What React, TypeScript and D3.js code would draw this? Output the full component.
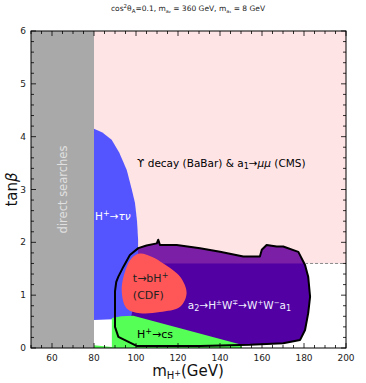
import React from "react";
import { scaleLinear, line, curveLinear, curveCatmullRomClosed, range } from "d3";

// mass axis ticks and tanβ ticks
const xTickLabels = [60, 80, 100, 120, 140, 160, 180, 200];
const yTickLabels = [0, 1, 2, 3, 4, 5, 6];

const directSearchLimit = 80; // GeV
const upsilonTanBeta = 1.6;

// excluded region boundary for a2 -> H W -> W W a1 (black contour)
const a2Contour: [number, number][] = [
  [97.1, 1.76], [101.1, 1.89], [105, 1.94], [109.9, 1.98], [110.6, 2.05], [111.4, 1.95],
  [119.4, 1.95], [130.5, 1.89], [140, 1.82], [151.1, 1.73], [159, 1.73], [159.9, 1.86],
  [162.2, 1.95], [167, 1.92], [170.1, 1.92], [177.3, 1.82], [180.5, 1.57], [182, 1.35],
  [182.9, 0.97], [182, 0.66], [180.5, 0.34], [178.1, 0.15], [170.1, 0.09], [154.3, 0.06],
  [130.5, 0.04], [100.3, 0.04], [91.6, 0.21], [90, 0.4], [90, 1.07], [90.6, 1.25],
  [91.6, 1.35], [94, 1.54],
];

// H+ -> tau nu
const tauNuRegion: [number, number][] = [
  [80, 4.15], [84, 4.08], [88.4, 3.94], [92, 3.7], [95.6, 3.37], [98, 3.0], [99.5, 2.75],
  [100.5, 2.4], [101, 2.05], [101, 1.7], [100.2, 1.2], [98.8, 0.8], [97.5, 0.56], [80, 0.53],
];

// t -> b H+ (CDF)
const cdfRegion: [number, number][] = [
  [101.9, 1.79], [108, 1.72], [113, 1.6], [121, 1.35], [124.1, 1.04], [121, 0.78],
  [111.4, 0.68], [101.9, 0.66], [95.6, 0.75], [93.2, 1.1], [95.6, 1.54], [98.7, 1.73],
];

// H+ -> c s
const csRegion: [number, number][] = [
  [80, 0], [80, 0.05], [88.5, 0.02], [88.5, 0.57], [93, 0.6], [98.7, 0.61],
  [124.1, 0.34], [150.3, 0.06], [150.5, 0],
];

export default function App() {
  const width = 366;
  const height = 383;
  const margin = { left: 31, right: 20, top: 31, bottom: 35 };

  const x = scaleLinear().domain([50, 200]).range([margin.left, width - margin.right]);
  const y = scaleLinear().domain([0, 6]).range([height - margin.bottom, margin.top]);

  const toPath = line<[number, number]>().x(d => x(d[0])).y(d => y(d[1]));
  const linear = toPath.curve(curveLinear);
  const contourPath = linear(a2Contour) + "Z";
  const tauPath = linear(tauNuRegion) + "Z";
  const csPath = linear(csRegion) + "Z";
  const cdfPath = line<[number, number]>()
    .x(d => x(d[0])).y(d => y(d[1]))
    .curve(curveCatmullRomClosed.alpha(0.5))(cdfRegion);

  const font = "'DejaVu Sans', sans-serif";
  const minorX = range(50, 201, 5);
  const minorY = range(0, 6.01, 0.2);
  const x0 = x(50), x1 = x(200), yTop = y(6), yBot = y(0);

  return (
    <svg width={width} height={height} style={{ position: "absolute", left: 0, top: 0 }} fontFamily={font}>
      <defs>
        <clipPath id="above">
          <rect x={x0} y={yTop} width={x1 - x0} height={y(upsilonTanBeta) - yTop} />
        </clipPath>
      </defs>

      <text x={188} y={11} fontSize={7.5} textAnchor="middle" fill="#222">
        cos<tspan dy={-3} fontSize={5.5}>2</tspan><tspan dy={3}>θ</tspan>
        <tspan dy={2} fontSize={5.5}>A</tspan><tspan dy={-2}>=0.1, m</tspan>
        <tspan dy={2} fontSize={5}>a₂</tspan><tspan dy={-2}> = 360 GeV,  m</tspan>
        <tspan dy={2} fontSize={5}>a₁</tspan><tspan dy={-2}> = 8 GeV</tspan>
      </text>

      {/* direct searches and Upsilon regions */}
      <rect x={x0} y={yTop} width={x(directSearchLimit) - x0} height={yBot - yTop} fill="#a9a9a9" />
      <rect x={x(directSearchLimit)} y={yTop} width={x1 - x(directSearchLimit)}
        height={y(upsilonTanBeta) - yTop} fill="#ffe4e6" />

      {/* a2 region */}
      <path d={contourPath} fill="#5200a3" />
      <g clipPath="url(#above)">
        <path d={contourPath} fill="#7a1fa6" />
      </g>

      <path d={tauPath} fill="#5555ff" />
      <path d={cdfPath ?? ""} fill="#ff5757" />
      <path d={csPath} fill="#55ff55" />

      <path d={contourPath} fill="none" stroke="#000" strokeWidth={2} strokeLinejoin="round" />
      <line x1={x(180.5)} x2={x1} y1={y(upsilonTanBeta)} y2={y(upsilonTanBeta)}
        stroke="#888" strokeDasharray="3,2" strokeWidth={1} />

      {/* frame and ticks */}
      <rect x={x0} y={yTop} width={x1 - x0} height={yBot - yTop} fill="none" stroke="#000" strokeWidth={1} />
      {minorX.map(v => {
        const len = xTickLabels.includes(v) ? 5 : 3;
        return (
          <g key={"xt" + v}>
            <line x1={x(v)} x2={x(v)} y1={yBot} y2={yBot - len} stroke="#000" strokeWidth={0.8} />
            <line x1={x(v)} x2={x(v)} y1={yTop} y2={yTop + len} stroke="#000" strokeWidth={0.8} />
          </g>
        );
      })}
      {minorY.map((v, i) => {
        const len = i % 5 === 0 ? 5 : 3;
        return (
          <g key={"yt" + i}>
            <line x1={x0} x2={x0 + len} y1={y(v)} y2={y(v)} stroke="#000" strokeWidth={0.8} />
            <line x1={x1} x2={x1 - len} y1={y(v)} y2={y(v)} stroke="#000" strokeWidth={0.8} />
          </g>
        );
      })}
      {xTickLabels.map(v => (
        <text key={"xl" + v} x={x(v)} y={yBot + 13} fontSize={9} textAnchor="middle" fill="#222">{v}</text>
      ))}
      {yTickLabels.map(v => (
        <text key={"yl" + v} x={x0 - 5} y={y(v) + 3} fontSize={9} textAnchor="end" fill="#222">{v}</text>
      ))}

      {/* axis titles */}
      <text x={188} y={376} fontSize={15} textAnchor="middle" fill="#111">
        m<tspan dy={3} fontSize={10}>H</tspan><tspan dy={-3} fontSize={8}>+</tspan><tspan>(GeV)</tspan>
      </text>
      <text transform={`translate(17,${(yTop + yBot) / 2}) rotate(-90)`} fontSize={15} textAnchor="middle" fill="#111">
        tan<tspan fontStyle="italic">β</tspan>
      </text>

      {/* region labels */}
      <text transform={`translate(${x(65) + 4},${y(3.0)}) rotate(-90)`} fontSize={11.5} textAnchor="middle" fill="#e0e0e0">
        direct  searches
      </text>
      <text x={x(100.5)} y={y(3.43)} fontSize={10.5} fill="#000">
        ϒ decay (BaBar) &amp; a<tspan dy={2} fontSize={8}>1</tspan><tspan dy={-2}>→</tspan>
        <tspan fontStyle="italic">μμ</tspan> (CMS)
      </text>
      <text x={x(80.5)} y={y(2.43)} fontSize={10.5} fill="#fff">
        H<tspan dy={-4} fontSize={8}>+</tspan><tspan dy={4}>→</tspan><tspan fontStyle="italic">τν</tspan>
      </text>
      <text x={x(98.5)} y={y(1.24)} fontSize={11} fill="#222">
        t→bH<tspan dy={-4} fontSize={8}>+</tspan>
      </text>
      <text x={x(98.5)} y={y(0.92)} fontSize={11} fill="#222">(CDF)</text>
      <text x={x(124.7)} y={y(0.73)} fontSize={10.5} fill="#f0f0ff">
        a<tspan dy={2} fontSize={8}>2</tspan><tspan dy={-2}>→H</tspan><tspan dy={-4} fontSize={7}>±</tspan>
        <tspan dy={4}>W</tspan><tspan dy={-4} fontSize={7}>∓</tspan><tspan dy={4}>→W</tspan>
        <tspan dy={-4} fontSize={7}>+</tspan><tspan dy={4}>W</tspan><tspan dy={-4} fontSize={7}>−</tspan>
        <tspan dy={4}>a</tspan><tspan dy={2} fontSize={8}>1</tspan>
      </text>
      <text x={x(100.5)} y={y(0.19)} fontSize={11} fill="#000">
        H<tspan dy={-4} fontSize={8}>+</tspan><tspan dy={4}>→cs</tspan>
      </text>
    </svg>
  );
}
